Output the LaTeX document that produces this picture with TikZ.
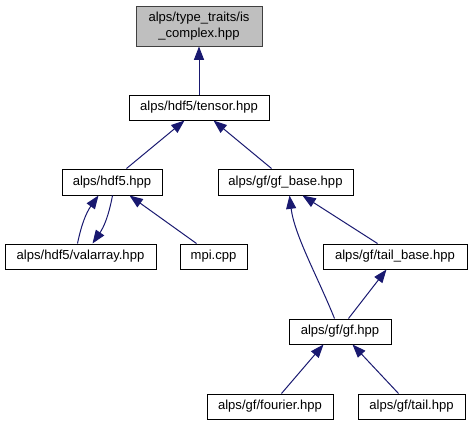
\documentclass[tikz,border=0pt]{standalone}
\usepackage{fontspec}
\setmainfont{Liberation Sans}
\usetikzlibrary{arrows.meta,calc}
\definecolor{edgeblue}{HTML}{191970}
\definecolor{topfill}{HTML}{BFBFBF}
\definecolor{topdraw}{HTML}{404040}
\begin{document}
\begin{tikzpicture}[x=0.75pt,y=-0.75pt,
  filebox/.style={draw=black,line width=0.75pt,fill=white,inner sep=0pt,minimum height=18.75pt,font=\fontsize{9.8}{11.5}\selectfont,align=center},
  topbox/.style={filebox,fill=topfill,draw=topdraw,minimum height=30pt},
  dep/.style={draw=edgeblue,line width=0.75pt,-{Triangle[length=10pt,width=7.5pt]}}]
\useasboundingbox (0,0) rectangle (472,425);
\node[topbox,minimum width=94.5pt] (iscomplex) at (199,26) {alps/type\_traits/is\\\_complex.hpp};
\node[filebox,minimum width=105pt] (tensor) at (199,107.5) {alps/hdf5/tensor.hpp};
\node[filebox,minimum width=75pt,minimum height=19.5pt] (hdf5) at (112,182) {alps/hdf5.hpp};
\node[filebox,minimum width=101.25pt,minimum height=19.5pt] (gfbase) at (285.5,182) {alps/gf/gf\_base.hpp};
\node[filebox,minimum width=113.25pt] (valarray) at (80.5,256.5) {alps/hdf5/valarray.hpp};
\node[filebox,minimum width=50.25pt] (mpi) at (213.5,256.5) {mpi.cpp};
\node[filebox,minimum width=108pt] (tailbase) at (395,256.5) {alps/gf/tail\_base.hpp};
\node[filebox,minimum width=76.5pt] (gf) at (340,331.5) {alps/gf/gf.hpp};
\node[filebox,minimum width=94.5pt] (fourier) at (270,406.5) {alps/gf/fourier.hpp};
\node[filebox,minimum width=80.25pt] (tail) at (411.5,406.5) {alps/gf/tail.hpp};
% edges
\draw[dep] (tensor.north) -- (iscomplex.south);
\draw[dep] ($(hdf5.north west)+(65,0)$) -- ($(tensor.south west)+(56,0)$);
\draw[dep] ($(gfbase.north west)+(54,0)$) -- ($(tensor.south west)+(85,0)$);
\draw[dep] ($(valarray.north west)+(73,0)$) to[bend left=12] ($(hdf5.south west)+(37,0)$);
\draw[dep] ($(hdf5.south west)+(51,0)$) to[bend left=12] ($(valarray.north west)+(88,0)$);
\draw[dep] ($(mpi.north west)+(17,0)$) -- ($(hdf5.south west)+(68,0)$);
\draw[dep] ($(gf.north west)+(46,0)$) .. controls ($(gf.north west)+(30,-40)$) and ($(gfbase.south west)+(77,40)$) .. ($(gfbase.south west)+(72,0)$);
\draw[dep] ($(tailbase.north west)+(55,0)$) -- ($(gfbase.south west)+(85,0)$);
\draw[dep] ($(gf.north west)+(60,0)$) -- ($(tailbase.south west)+(64,0)$);
\draw[dep] ($(fourier.north west)+(75,0)$) -- ($(gf.south west)+(35,0)$);
\draw[dep] ($(tail.north west)+(41,0)$) -- ($(gf.south west)+(64,0)$);
\end{tikzpicture}
\end{document}
